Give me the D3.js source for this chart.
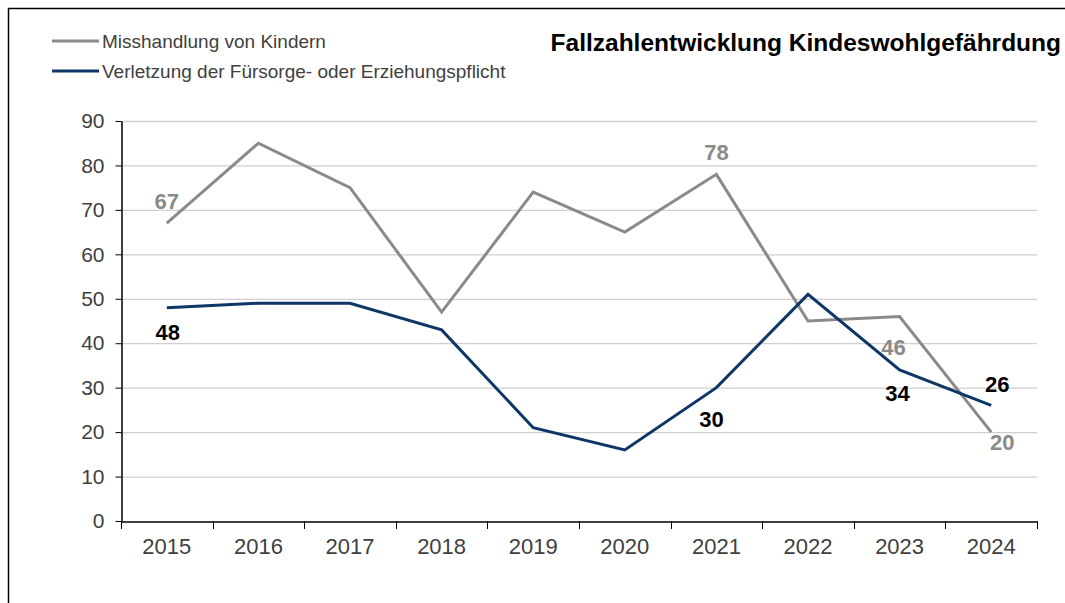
<!DOCTYPE html>
<html>
<head>
<meta charset="utf-8">
<script src="https://cdn.jsdelivr.net/npm/d3@7"></script>
<style>
  body { margin: 0; background: #fff; }
  svg { display: block; font-family: "Liberation Sans", Arial, sans-serif; }
</style>
</head>
<body>
<svg id="chart" width="1065" height="603"></svg>
<script>
// Daten
const years = ["2015", "2016", "2017", "2018", "2019", "2020", "2021", "2022", "2023", "2024"];
const misshandlung = [67, 85, 75, 47, 74, 65, 78, 45, 46, 20];
const verletzung = [48, 49, 49, 43, 21, 16, 30, 51, 34, 26];
const yTicks = [0, 10, 20, 30, 40, 50, 60, 70, 80, 90];
const seriesNames = ["Misshandlung von Kindern", "Verletzung der Fürsorge- oder Erziehungspflicht"];
const title = "Fallzahlentwicklung Kindeswohlgefährdung";

// welche Punkte eine Beschriftung bekommen
const missLabelYears = ["2015", "2021", "2023", "2024"];
const verlLabelYears = ["2015", "2021", "2023", "2024"];

const grey = "#8a8a8a";
const blue = "#0e3767";

var svg = d3.select("#chart");
var plot = { left: 121, right: 1037, top: 121, bottom: 521 };

var x = d3.scaleBand().domain(years).range([plot.left, plot.right]);
var y = d3.scaleLinear().domain([0, 90]).range([plot.bottom, plot.top]);

// Rahmen
svg.append("path")
    .attr("d", "M8.5,603V8.5H1065")
    .attr("fill", "none")
    .attr("stroke", "#000")
    .attr("stroke-width", 1.5);

// Gitterlinien
svg.append("g")
    .selectAll("line")
    .data(yTicks.filter(d => d > 0))
    .enter()
    .append("line")
    .attr("x1", plot.left)
    .attr("x2", plot.right)
    .attr("y1", d => y(d) + 0.5)
    .attr("y2", d => y(d) + 0.5)
    .attr("stroke", "#cfcfcf")
    .attr("stroke-width", 1.3);

// Y-Achse
var yAxis = svg.append("g")
    .attr("transform", "translate(" + (plot.left + 0.5) + ",0)")
    .call(d3.axisLeft(y).tickValues(yTicks).tickSize(6).tickPadding(11).tickSizeOuter(0));
yAxis.selectAll("text").style("font-size", "21px").attr("fill", "#404040");

// X-Achse mit Strichen an den Kategoriegrenzen
var xAxis = svg.append("g")
    .attr("transform", "translate(0," + (plot.bottom + 0.5) + ")")
    .call(d3.axisBottom(x).tickSize(0).tickPadding(17).tickSizeOuter(0));
xAxis.selectAll("text").style("font-size", "22px").attr("fill", "#404040");
xAxis.selectAll(".tick line").remove();
svg.append("g")
    .selectAll("line")
    .data(years.concat(["end"]))
    .enter()
    .append("line")
    .attr("x1", (d, i) => Math.round(plot.left + i * x.step()) + 0.5)
    .attr("x2", (d, i) => Math.round(plot.left + i * x.step()) + 0.5)
    .attr("y1", plot.bottom)
    .attr("y2", plot.bottom + 8)
    .attr("stroke", "#000");
svg.selectAll(".domain").attr("stroke", "#000").attr("stroke-width", 1.5);

var cx = d => x(d) + x.bandwidth() / 2;

var line = d3.line()
    .x(d => cx(d.year))
    .y(d => y(d.value));

function toPoints(values) {
    return years.map((yr, i) => ({ year: yr, value: values[i] }));
}

var missPts = toPoints(misshandlung);
var verlPts = toPoints(verletzung);

svg.append("path")
    .datum(missPts)
    .attr("d", line)
    .attr("fill", "none")
    .attr("stroke", grey)
    .attr("stroke-width", 3);

svg.append("path")
    .datum(verlPts)
    .attr("d", line)
    .attr("fill", "none")
    .attr("stroke", blue)
    .attr("stroke-width", 3);

// Beschriftungen der Werte
function placeLabel(series, year) {
    // Versatz relativ zum Punkt
    if (series === "miss") {
        if (year === "2023") return [-6, 31];
        if (year === "2024") return [11, 10];
        return [0, -22];
    }
    if (year === "2024") return [6, -21];
    if (year === "2021") return [-5, 32];
    if (year === "2023") return [-2, 24];
    return [1, 25];
}

function drawLabels(pts, labelYears, key, color) {
    svg.append("g")
        .selectAll("text")
        .data(pts.filter(p => labelYears.includes(p.year)))
        .enter()
        .append("text")
        .attr("x", d => cx(d.year) + placeLabel(key, d.year)[0])
        .attr("y", d => y(d.value) + placeLabel(key, d.year)[1])
        .attr("text-anchor", "middle")
        .attr("dominant-baseline", "central")
        .attr("fill", color)
        .style("font-size", "22px")
        .style("font-weight", "bold")
        .text(d => d.value);
}

drawLabels(missPts, missLabelYears, "miss", grey);
drawLabels(verlPts, verlLabelYears, "verl", "#000");

// Legende
var legend = svg.append("g")
    .selectAll("g")
    .data(seriesNames)
    .enter()
    .append("g")
    .attr("transform", (d, i) => "translate(52," + (41 + i * 30) + ")");
legend.append("line")
    .attr("x1", 0).attr("x2", 47)
    .attr("stroke", (d, i) => i === 0 ? grey : blue)
    .attr("stroke-width", 3);
legend.append("text")
    .attr("x", 50)
    .attr("dominant-baseline", "central")
    .attr("fill", "#404040")
    .style("font-size", "19px")
    .text(d => d);

// Titel
svg.append("text")
    .attr("x", 1061)
    .attr("y", 42)
    .attr("text-anchor", "end")
    .attr("dominant-baseline", "central")
    .style("font-size", "24.5px")
    .style("font-weight", "bold")
    .attr("fill", "#000")
    .text(title);
</script>
</body>
</html>
